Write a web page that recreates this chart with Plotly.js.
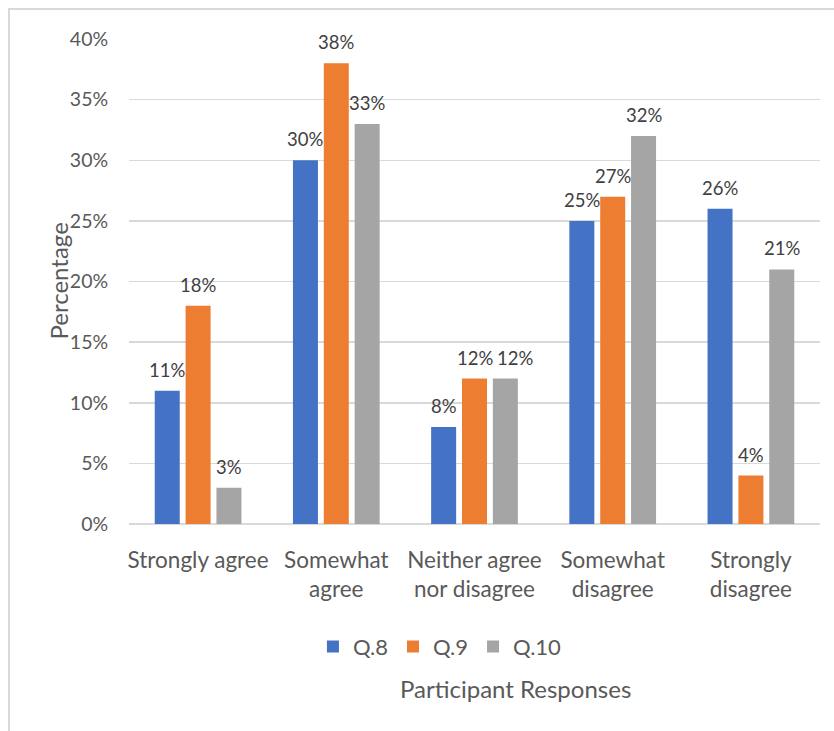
<!DOCTYPE html>
<html>
<head>
<meta charset="utf-8">
<script src="https://cdn.plot.ly/plotly-3.0.1.min.js"></script>
<style>
  html, body { margin: 0; padding: 0; background: #fff; overflow: hidden; }
  #wrap { position: relative; width: 834px; height: 731px; }
  #chart { width: 834px; height: 731px; }
  #frame { position: absolute; left: 8px; top: 8px; width: 840px; height: 740px;
           border: 2px solid #d9d9d9; box-sizing: border-box; pointer-events: none; }
</style>
</head>
<body>
<div id="wrap">
  <div id="chart"></div>
  <div id="frame"></div>
</div>
<script>
// Survey responses, share of participants per answer
const categories = ["Strongly agree", "Somewhat<br>agree", "Neither agree<br>nor disagree", "Somewhat<br>disagree", "Strongly<br>disagree"];
const q8  = [0.11, 0.30, 0.08, 0.25, 0.26];
const q9  = [0.18, 0.38, 0.12, 0.27, 0.04];
const q10 = [0.03, 0.33, 0.12, 0.32, 0.21];
const seriesNames = ["Q.8", "Q.9", "Q.10"];
const seriesColors = ["#4472c4", "#ed7d31", "#a5a5a5"];
const yTickVals = [0, 0.05, 0.10, 0.15, 0.20, 0.25, 0.30, 0.35, 0.40];

const FONT = "Lato, 'Open Sans', sans-serif";
const GREY = "#595959";
const LABEL_SIZE = 18.5;

const W = 834, H = 731;
const M = { l: 129, r: 14, t: 39, b: 207 };
const BARGAP = 0.33;

const allSeries = [q8, q9, q10];
const pct = v => Math.round(v * 100) + "%";

const traces = allSeries.map((vals, i) => ({
  type: "bar",
  name: seriesNames[i],
  x: categories,
  y: vals,
  marker: { color: seriesColors[i] },
  hoverinfo: "skip"
}));

// Text width helper so neighbouring value labels at similar heights don't collide
const ctx = document.createElement("canvas").getContext("2d");
ctx.font = LABEL_SIZE + "px Lato";
const textW = s => ctx.measureText(s).width;

// Value labels sit above each bar; horizontal shift follows the group slot width
const catWidth = (W - M.l - M.r) / categories.length;
const plotH = H - M.t - M.b;
const slot = catWidth * (1 - BARGAP) / allSeries.length;
const labels = [];
categories.forEach((cat, j) => {
  let prev = null;
  allSeries.forEach((vals, i) => {
    const v = vals[j];
    const txt = pct(v);
    const w = textW(txt);
    let shift = (i - 1) * slot;
    if (prev && Math.abs(prev.v - v) * plotH / 0.4 < LABEL_SIZE) {
      const overlap = (prev.shift + prev.w / 2 + 4) - (shift - w / 2);
      if (overlap > 0) shift += overlap;
    }
    prev = { v, w, shift };
    labels.push({
      x: cat, y: v, xref: "x", yref: "y",
      text: txt, showarrow: false,
      xanchor: "center", yanchor: "middle",
      xshift: shift, yshift: 21,
      font: { family: FONT, size: LABEL_SIZE, color: "#404040" }
    });
  });
});

const layout = {
  width: W,
  height: H,
  margin: M,
  paper_bgcolor: "#fff",
  plot_bgcolor: "#fff",
  font: { family: FONT, color: GREY, size: 20 },
  barmode: "group",
  bargap: BARGAP,
  bargroupgap: 0.19,
  showlegend: true,
  legend: {
    orientation: "h",
    x: 0.45, xref: "paper", xanchor: "center",
    y: -0.253, yanchor: "middle",
    font: { family: FONT, size: 22, color: GREY },
    itemwidth: 30,
    traceorder: "normal"
  },
  xaxis: {
    showgrid: false,
    showline: false,
    zeroline: false,
    ticks: "",
    ticklabelstandoff: 20,
    tickfont: { family: FONT, size: 22.5, color: GREY },
    automargin: false
  },
  yaxis: {
    range: [0, 0.4],
    tickvals: yTickVals,
    ticktext: yTickVals.map(pct),
    showgrid: true,
    gridcolor: "#d9d9d9",
    gridwidth: 1.5,
    zeroline: true,
    zerolinecolor: "#d9d9d9",
    zerolinewidth: 1.5,
    showline: false,
    ticks: "outside",
    ticklen: 16,
    tickcolor: "rgba(0,0,0,0)",
    tickfont: { family: FONT, size: 19.5, color: GREY },
    automargin: false,
    fixedrange: true
  },
  annotations: labels.concat([
    {
      text: "Percentage",
      xref: "paper", yref: "paper",
      x: (58 - M.l) / (W - M.l - M.r), y: 0.5,
      xanchor: "center", yanchor: "middle",
      textangle: -90,
      showarrow: false,
      font: { family: FONT, size: 24, color: GREY }
    },
    {
      text: "Participant Responses",
      xref: "paper", yref: "paper",
      x: 0.56, y: -0.34,
      xanchor: "center", yanchor: "middle",
      showarrow: false,
      font: { family: FONT, size: 24, color: GREY }
    }
  ])
};

Plotly.newPlot("chart", traces, layout, { staticPlot: true, displayModeBar: false });
</script>
</body>
</html>
